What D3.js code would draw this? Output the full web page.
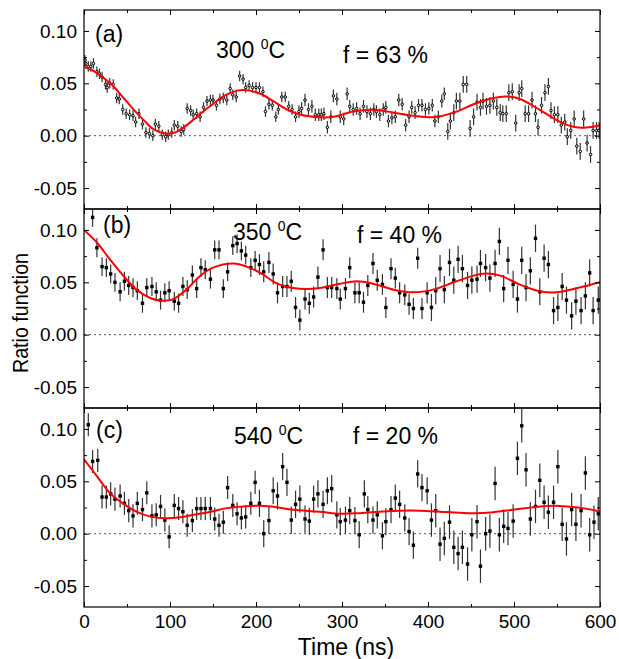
<!DOCTYPE html>
<html>
<head>
<meta charset="utf-8">
<script src="https://cdnjs.cloudflare.com/ajax/libs/d3/7.8.5/d3.min.js"></script>
<style>
body { margin: 0; background: #fff; }
text { font-family: "Liberation Sans", Arial, sans-serif; fill: #000; }
</style>
</head>
<body>
<script>

// measured points [time ns, ratio]
var pointsA = [[1,0.072],[2,0.069],[5,0.066],[8,0.066],[11,0.069],[15,0.061],[18,0.059],[21,0.056],[25,0.049],[27,0.046],
  [30,0.050],[34,0.049],[38,0.036],[41,0.035],[45,0.025],[49,0.021],[53,0.020],[57,0.019],[60,0.013],[64,0.021],
  [68,0.011],[72,0.003],[76,0.002],[80,0.000],[83,0.011],[87,0.009],[91,0.001],[95,-0.001],[98,0.001],[102,0.003],
  [105,0.010],[109,0.009],[113,0.004],[116,0.006],[120,0.026],[124,0.024],[127,0.020],[131,0.021],[135,0.018],[139,0.027],
  [143,0.033],[147,0.034],[150,0.034],[154,0.029],[158,0.035],[162,0.036],[166,0.034],[170,0.045],[173,0.039],[177,0.037],
  [181,0.057],[185,0.054],[188,0.046],[192,0.048],[196,0.046],[200,0.046],[204,0.046],[208,0.042],[211,0.023],[215,0.030],
  [219,0.029],[223,0.018],[226,0.025],[230,0.037],[234,0.037],[238,0.028],[242,0.025],[246,0.018],[250,0.023],[253,0.026],
  [257,0.034],[261,0.025],[265,0.028],[269,0.020],[273,0.020],[276,0.020],[279,0.021],[283,0.008],[287,0.018],[290,0.038],
  [294,0.035],[298,0.018],[302,0.016],[306,0.040],[309,0.028],[313,0.025],[317,0.026],[321,0.021],[325,0.028],[329,0.023],
  [333,0.021],[337,0.025],[340,0.023],[344,0.020],[348,0.025],[351,0.027],[354,0.014],[358,0.017],[362,0.018],[366,0.034],
  [370,0.030],[374,0.010],[378,0.018],[381,0.027],[385,0.022],[389,0.029],[393,0.029],[397,0.025],[401,0.026],[405,0.029],
  [408,0.014],[412,0.018],[416,0.033],[419,0.040],[423,0.004],[426,0.014],[430,0.022],[433,0.033],[437,0.033],[441,0.049],
  [445,0.049],[449,0.007],[453,0.018],[457,0.032],[461,0.027],[464,0.033],[468,0.028],[472,0.029],[476,0.033],[480,0.027],
  [484,0.022],[487,0.021],[491,0.021],[494,0.041],[498,0.042],[502,0.012],[506,0.041],[509,0.045],[513,0.021],[517,0.021],
  [521,0.034],[525,0.021],[528,0.008],[532,0.029],[536,0.041],[540,0.047],[543,0.024],[547,0.020],[551,0.020],[555,0.010],
  [559,0.013],[562,-0.001],[566,0.005],[570,0.016],[573,-0.010],[577,-0.015],[581,0.016],[585,-0.007],[589,-0.018],[592,0.005],
  [596,0.005],[599,0.005]];

var pointsB = [[10,0.112],[15,0.083],[21,0.065],[26,0.064],[31,0.058],[36,0.050],[42,0.041],[47,0.051],[52,0.047],[57,0.045],
  [62,0.042],[68,0.030],[73,0.045],[79,0.046],[84,0.041],[89,0.033],[94,0.040],[99,0.042],[105,0.032],[110,0.030],
  [115,0.046],[120,0.043],[126,0.057],[131,0.044],[136,0.064],[141,0.062],[147,0.053],[152,0.081],[157,0.081],[162,0.044],
  [167,0.060],[173,0.085],[178,0.087],[183,0.080],[188,0.076],[194,0.064],[199,0.071],[204,0.067],[209,0.060],[215,0.069],
  [220,0.058],[225,0.040],[231,0.046],[236,0.046],[241,0.051],[246,0.026],[251,0.014],[257,0.034],[262,0.030],[267,0.036],
  [272,0.055],[278,0.081],[283,0.045],[288,0.045],[294,0.044],[298,0.034],[304,0.044],[309,0.064],[315,0.040],[320,0.040],
  [325,0.031],[330,0.047],[336,0.068],[341,0.052],[347,0.048],[351,0.026],[357,0.063],[362,0.054],[367,0.040],[373,0.038],
  [378,0.029],[383,0.025],[388,0.073],[393,0.025],[399,0.040],[404,0.026],[409,0.042],[414,0.063],[419,0.043],[425,0.069],
  [430,0.052],[435,0.072],[440,0.063],[446,0.047],[451,0.052],[457,0.053],[461,0.068],[467,0.064],[472,0.054],[478,0.068],
  [483,0.089],[488,0.044],[493,0.071],[499,0.048],[504,0.034],[509,0.071],[514,0.045],[519,0.061],[525,0.092],[530,0.041],
  [535,0.073],[540,0.067],[546,0.023],[551,0.026],[556,0.046],[561,0.033],[567,0.018],[572,0.032],[578,0.023],[583,0.037],
  [588,0.059],[592,0.023],[598,0.033]];

var pointsC = [[5,0.104],[10,0.069],[16,0.070],[21,0.035],[26,0.035],[31,0.038],[36,0.033],[42,0.036],[47,0.029],[52,0.022],
  [57,0.017],[62,0.029],[68,0.023],[73,0.039],[79,0.017],[84,0.018],[89,0.026],[94,0.013],[99,-0.003],[105,0.027],
  [110,0.024],[115,0.021],[120,0.008],[126,0.0125],[131,0.024],[136,0.024],[141,0.024],[147,0.024],[152,0.014],[157,0.008],
  [162,0.011],[167,0.044],[173,0.027],[178,0.019],[183,0.015],[188,0.016],[194,0.029],[199,0.049],[204,0.029],[209,0.000],
  [215,0.0125],[220,0.041],[225,0.036],[231,0.064],[236,0.049],[241,0.013],[246,0.028],[251,0.033],[257,0.014],[262,0.012],
  [267,0.033],[272,0.038],[278,0.028],[283,0.041],[288,0.043],[294,0.018],[298,0.0115],[304,0.013],[309,0.022],[315,0.0125],
  [320,-0.001],[326,0.038],[330,0.023],[336,0.013],[341,0.018],[347,-0.002],[351,0.0115],[357,0.023],[362,0.034],[367,0.028],
  [373,0.015],[378,0.002],[383,-0.011],[388,0.057],[393,0.044],[399,0.041],[404,0.013],[409,0.022],[414,-0.010],[419,-0.0045],
  [425,0.011],[430,-0.013],[435,-0.019],[440,-0.013],[446,-0.029],[451,-0.001],[457,0.0115],[461,-0.031],[467,0.000],[472,0.0025],
  [478,0.048],[483,-0.001],[488,0.007],[493,0.005],[499,0.012],[504,0.072],[509,0.103],[514,0.061],[519,0.014],[525,0.026],
  [530,0.051],[535,0.030],[540,0.0205],[546,0.030],[551,0.064],[556,0.009],[561,-0.005],[567,0.023],[572,0.009],[578,0.022],
  [583,0.058],[588,-0.001],[593,0.011],[598,0.019]];

// error bar half-height, from given time on
var errA = [[0,0.005],[250,0.006],[420,0.008]];
var errB = [[0,0.009],[200,0.010],[400,0.013]];
var errC = [[0,0.011],[200,0.013],[400,0.016]];

// red fit curves
var fitA = [[0,0.071],[3,0.065],[12,0.0615],[23,0.055],[35,0.0465],[46,0.036],[58,0.0247],[70,0.0144],[81,0.006],[95,0.002],
  [104,0.0025],[116,0.008],[128,0.0157],[140,0.024],[151,0.031],[163,0.038],[178,0.043],[188,0.0435],[205,0.040],[220,0.033],
  [236,0.025],[252,0.020],[274,0.0176],[290,0.018],[313,0.023],[336,0.0247],[360,0.022],[383,0.019],[406,0.0176],[430,0.022],
  [453,0.030],[476,0.036],[491,0.0375],[507,0.035],[530,0.0247],[553,0.0135],[572,0.008],[584,0.0077],[600,0.010]];

var fitB = [[0,0.100],[15,0.088],[30,0.072],[46,0.056],[61,0.043],[77,0.035],[90,0.0325],[104,0.034],[119,0.043],[135,0.056],
  [150,0.064],[174,0.068],[189,0.065],[205,0.059],[224,0.049],[243,0.0446],[259,0.0436],[274,0.0446],[298,0.0487],[317,0.051],
  [336,0.0487],[360,0.043],[383,0.0404],[406,0.043],[430,0.050],[453,0.0564],[468,0.0583],[484,0.0564],[507,0.0478],[530,0.0414],
  [550,0.0404],[569,0.0436],[585,0.0468],[600,0.050]];

var fitC = [[0,0.071],[15,0.055],[30,0.039],[46,0.0285],[61,0.021],[77,0.0163],[96,0.0147],[112,0.0157],[127,0.018],[147,0.021],
  [166,0.0244],[185,0.026],[205,0.0266],[224,0.0253],[243,0.0228],[274,0.021],[298,0.019],[321,0.0196],[344,0.021],[367,0.022],
  [391,0.022],[414,0.021],[437,0.020],[453,0.0196],[476,0.0205],[499,0.0228],[523,0.0253],[546,0.0266],[561,0.026],[585,0.0237],
  [600,0.021]];

var panelLabels = ["(a)", "(b)", "(c)"];
var temps = ["300", "350", "540"];
var fractions = ["f = 63 %", "f = 40 %", "f = 20 %"];

var yMajor = [-0.05, 0, 0.05, 0.10];
var yMinor = [-0.025, 0.025, 0.075];
var xMajor = [0, 100, 200, 300, 400, 500, 600];
var xMinor = [50, 150, 250, 350, 450, 550];


var width = 619;
var height = 659;
var left = 84, right = 600, top0 = 10, panelH = 199;

var x = d3.scaleLinear().domain([0, 600]).range([left, right]);
var y = d3.scaleLinear().domain([-0.07, 0.12]).range([panelH, 0]);

var svg = d3.select("body")
	.append("svg")
	.attr("width", width)
	.attr("height", height);

var panels = [
	{pts: pointsA, fit: fitA, err: errA, marker: "circle",
	 lx: 95, ly: 32, tx: 216, ty: 48, fx: 343, fy: 53},
	{pts: pointsB, fit: fitB, err: errB, marker: "square",
	 lx: 103, ly: 24, tx: 233, ty: 31, fx: 357, fy: 34},
	{pts: pointsC, fit: fitC, err: errC, marker: "square",
	 lx: 96, ly: 30, tx: 234, ty: 36, fx: 353, fy: 36}
];

function errAt(steps, t) {
	var e = steps[0][1];
	steps.forEach(function(s) { if (t >= s[0]) e = s[1]; });
	return e;
}

var line = d3.line()
	.x(function(d) { return x(d[0]); })
	.y(function(d) { return y(d[1]); })
	.curve(d3.curveCatmullRom.alpha(0.5));

function styleAxis(g) {
	g.select(".domain").remove();
	g.selectAll(".tick line").attr("stroke", "#000").attr("stroke-width", 1);
	g.attr("font-family", "Liberation Sans, Arial, sans-serif")
	 .attr("font-size", 19);
}

panels.forEach(function(p, i) {
	var g = svg.append("g")
		.attr("transform", "translate(0," + (top0 + i * panelH) + ")");

	g.append("clipPath").attr("id", "clip" + i)
		.append("rect")
		.attr("x", left).attr("y", 0)
		.attr("width", right - left).attr("height", panelH);

	var plot = g.append("g").attr("clip-path", "url(#clip" + i + ")");

	// zero line
	plot.append("line")
		.attr("x1", left).attr("x2", right)
		.attr("y1", y(0)).attr("y2", y(0))
		.attr("stroke", "#555")
		.attr("stroke-width", 1)
		.attr("stroke-dasharray", "2,3");

	plot.selectAll(".err")
		.data(p.pts)
		.enter()
		.append("line")
		.attr("class", "err")
		.attr("x1", function(d) { return x(d[0]); })
		.attr("x2", function(d) { return x(d[0]); })
		.attr("y1", function(d) { return y(d[1] - errAt(p.err, d[0])); })
		.attr("y2", function(d) { return y(d[1] + errAt(p.err, d[0])); })
		.attr("stroke", "#333")
		.attr("stroke-width", 1.2);

	if (p.marker == "circle") {
		plot.selectAll(".pt")
			.data(p.pts)
			.enter()
			.append("circle")
			.attr("class", "pt")
			.attr("cx", function(d) { return x(d[0]); })
			.attr("cy", function(d) { return y(d[1]); })
			.attr("r", 1.3)
			.attr("fill", "#ddd")
			.attr("stroke", "#000")
			.attr("stroke-width", 1);
	} else {
		plot.selectAll(".pt")
			.data(p.pts)
			.enter()
			.append("rect")
			.attr("class", "pt")
			.attr("x", function(d) { return x(d[0]) - 1.7; })
			.attr("y", function(d) { return y(d[1]) - 1.7; })
			.attr("width", 3.4)
			.attr("height", 3.4)
			.attr("fill", "#000");
	}

	plot.append("path")
		.datum(p.fit)
		.attr("d", line)
		.attr("fill", "none")
		.attr("stroke", "#f00")
		.attr("stroke-width", 2);

	// axes, all ticks inward
	g.append("g").attr("transform", "translate(" + left + ",0)")
		.call(d3.axisLeft(y).tickValues(yMajor).tickSize(-5).tickPadding(7)
			.tickFormat(function(d) { return d.toFixed(2); }))
		.call(styleAxis);
	g.append("g").attr("transform", "translate(" + left + ",0)")
		.call(d3.axisLeft(y).tickValues(yMinor).tickSize(-3).tickFormat(""))
		.call(styleAxis);
	g.append("g").attr("transform", "translate(" + right + ",0)")
		.call(d3.axisRight(y).tickValues(yMajor).tickSize(-5).tickFormat(""))
		.call(styleAxis);
	g.append("g").attr("transform", "translate(" + right + ",0)")
		.call(d3.axisRight(y).tickValues(yMinor).tickSize(-3).tickFormat(""))
		.call(styleAxis);

	g.append("g")
		.call(d3.axisTop(x).tickValues(xMajor).tickSize(-5).tickFormat(""))
		.call(styleAxis);
	g.append("g")
		.call(d3.axisTop(x).tickValues(xMinor).tickSize(-3).tickFormat(""))
		.call(styleAxis);

	var last = (i == panels.length - 1);
	g.append("g").attr("transform", "translate(0," + panelH + ")")
		.call(d3.axisBottom(x).tickValues(xMajor).tickSize(-5).tickPadding(8)
			.tickFormat(last ? d3.format("d") : ""))
		.call(styleAxis);
	g.append("g").attr("transform", "translate(0," + panelH + ")")
		.call(d3.axisBottom(x).tickValues(xMinor).tickSize(-3).tickFormat(""))
		.call(styleAxis);

	g.append("rect")
		.attr("x", left).attr("y", 0)
		.attr("width", right - left).attr("height", panelH)
		.attr("fill", "none")
		.attr("stroke", "#000")
		.attr("stroke-width", 1.2);

	// annotations
	g.append("text")
		.attr("x", p.lx).attr("y", p.ly)
		.attr("font-size", 23)
		.text(panelLabels[i]);

	var t = g.append("text")
		.attr("x", p.tx).attr("y", p.ty)
		.attr("font-size", 23);
	t.append("tspan").text(temps[i] + " ");
	t.append("tspan").attr("font-size", 14).attr("dy", -9).text("0");
	t.append("tspan").attr("dy", 9).text("C");

	g.append("text")
		.attr("x", p.fx).attr("y", p.fy)
		.attr("font-size", 23)
		.attr("xml:space", "preserve")
		.text(fractions[i]);
});

svg.append("text")
	.attr("transform", "rotate(-90)")
	.attr("x", -313)
	.attr("y", 28)
	.attr("text-anchor", "middle")
	.attr("font-size", 22)
	.attr("textLength", 120)
	.attr("lengthAdjust", "spacingAndGlyphs")
	.text("Ratio function");

svg.append("text")
	.attr("x", 346)
	.attr("y", 655)
	.attr("text-anchor", "middle")
	.attr("font-size", 23)
	.text("Time (ns)");

</script>
</body>
</html>
